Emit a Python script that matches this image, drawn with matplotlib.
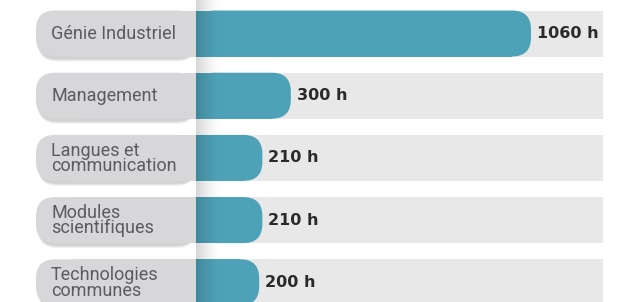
import numpy as np
import matplotlib
matplotlib.use("Agg")
import matplotlib.pyplot as plt
from matplotlib.patches import FancyBboxPatch, Rectangle

categories = ["Génie Industriel", "Management", "Langues et\ncommunication",
              "Modules\nscientifiques", "Technologies\ncommunes"]
hours = [1060, 300, 210, 210, 200]
value_labels = [f"{v} h" for v in hours]

W, H = 624, 302
fig = plt.figure(figsize=(W / 100, H / 100), dpi=100)
ax = fig.add_axes([0, 0, 1, 1])

# pixel mapping (x in data units, y in pixels)
x0_px = 196.0
k = 335.0 / 1060.0  # px per hour unit
def px2x(p):
    return (p - x0_px) / k

ax.set_xlim(px2x(0), px2x(W))
ax.set_ylim(H, 0)
ax.axis("off")

row0, step, bh = 33.5, 62.2, 46.0
track_end = px2x(603)
box_left = px2x(36)
r_px = 19.0
r_x = r_px / k

bar_col = "#4ea2b8"
track_col = "#e8e8e9"
box_col = "#d7d7d9"

for i, (cat, v, lab) in enumerate(zip(categories, hours, value_labels)):
    yc = row0 + step * i
    yb = yc - bh / 2
    # track
    ax.add_patch(Rectangle((0, yb), track_end, bh, facecolor=track_col, edgecolor="none", zorder=1))
    # label box shadow (soft, several layers)
    for off, a in [(5, 0.05), (4, 0.06), (3, 0.07)]:
        ax.add_patch(FancyBboxPatch((box_left + 2 / k, yb + off), 0 - box_left - 2 / k, bh,
                                    boxstyle=f"round,pad=0,rounding_size={r_x}", mutation_aspect=k,
                                    facecolor="#000000", alpha=a, edgecolor="none", zorder=1.5))
    # label box
    ax.add_patch(FancyBboxPatch((box_left, yb), 0 - box_left, bh,
                                boxstyle=f"round,pad=0,rounding_size={r_x}", mutation_aspect=k,
                                facecolor=box_col, edgecolor="none", zorder=2))
    ax.add_patch(Rectangle((box_left + 2 * r_x, yb), -box_left - 2 * r_x, bh,
                           facecolor=box_col, edgecolor="none", zorder=2))
    # bar
    ax.add_patch(Rectangle((0, yb), v - r_x, bh, facecolor=bar_col, edgecolor="none", zorder=3))
    ax.add_patch(FancyBboxPatch((0, yb), v, bh,
                                boxstyle=f"round,pad=0,rounding_size={r_x}", mutation_aspect=k,
                                facecolor=bar_col, edgecolor="none", zorder=3))
    ax.text(px2x(51), yc + 0.5, cat, ha="left", va="center", fontsize=13, color="#5c5c60",
            family="Roboto", linespacing=0.82, zorder=5)
    ax.text(v + 6 / k, yc, lab, ha="left", va="center", fontsize=11.5, color="#2a2a2a",
            fontweight="bold", family="DejaVu Sans", zorder=5)

# vertical shadow strip at the bar start
grad = np.zeros((1, 64, 4))
grad[0, :, 3] = np.linspace(0.30, 0.0, 64) ** 1.5
ax.imshow(grad, extent=(0, px2x(222), H, 0), aspect="auto", zorder=4, interpolation="bilinear")
ax.set_xlim(px2x(0), px2x(W))
ax.set_ylim(H, 0)

fig.savefig("out.png", dpi=100, facecolor="white")
